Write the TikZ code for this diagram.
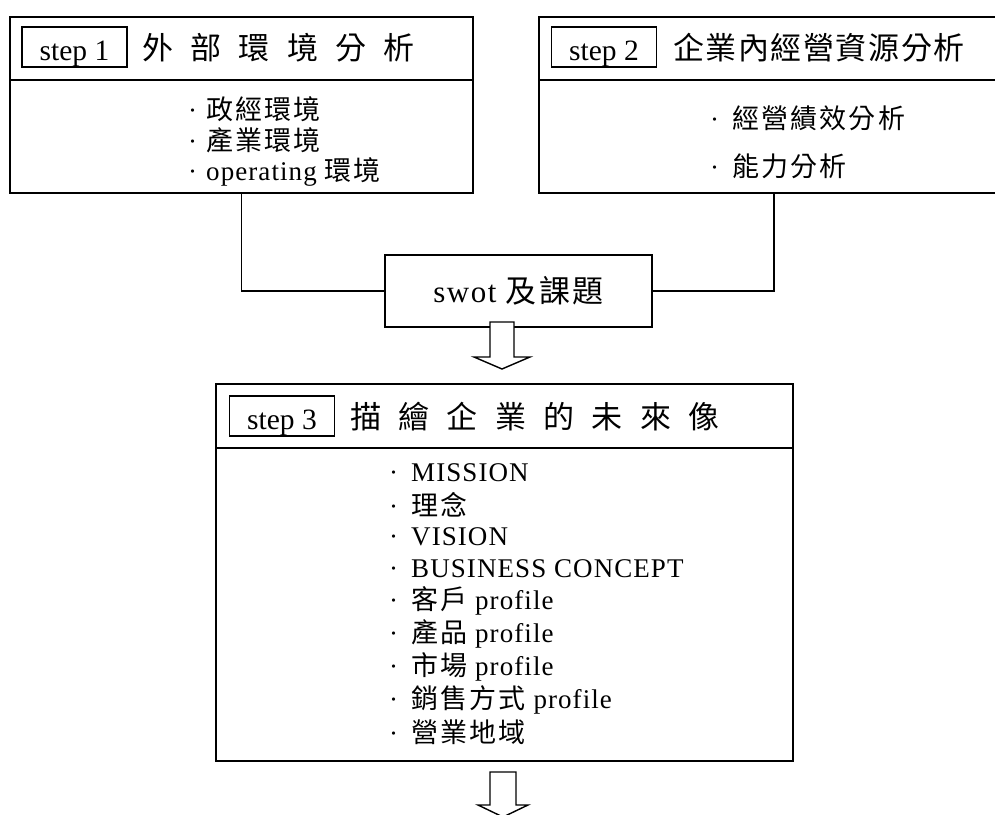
\documentclass[tikz,border=0pt]{standalone}
\usepackage{fontspec}
\setmainfont{Liberation Serif}
\newfontfamily\latinitem[LetterSpace=4]{Liberation Serif}
\newfontfamily\latinswot[LetterSpace=5]{Liberation Serif}
\newfontfamily\cjkfont{Noto Sans CJK TC}
\newfontfamily\cjktitleA[LetterSpace=56]{Noto Sans CJK TC}
\newfontfamily\cjktitleB[LetterSpace=5]{Noto Sans CJK TC}
\newfontfamily\cjktitleC[LetterSpace=56]{Noto Sans CJK TC}
\newfontfamily\cjkitem[LetterSpace=8]{Noto Sans CJK TC}
\begin{document}
\begin{tikzpicture}[x=1pt,y=-1pt,
  bigbox/.style={draw,line width=1.6pt,inner sep=0pt},
  stepbox/.style={draw,line width=1.6pt,minimum width=105pt,minimum height=40pt,inner sep=0pt},
  steplabel/.style={anchor=base,inner sep=0pt,font=\fontsize{29.5}{31}\selectfont},
  titletext/.style={anchor=west,inner sep=0pt,font=\fontsize{31}{33}\selectfont},
  itemtext/.style={anchor=west,inner sep=0pt,font=\fontsize{27}{29}\latinitem},
  conn/.style={line width=1.6pt},
  bigarrow/.style={draw,line width=1.4pt,fill=white,line join=miter}]
\clip (0,0) rectangle (995,814);
\fill[white] (0,0) rectangle (995,814);

% ---------- box 1 ----------
\node[bigbox,minimum width=463pt,minimum height=176pt] (box1) at (241.5,105) {};
\draw[conn] (box1.west |- 0,80) coordinate (d1l) -- (box1.east |- 0,80) coordinate (d1r);
\node[stepbox] (s1) at (74.5,47) {};
\node[steplabel] (l1) at ([yshift=7pt]s1.south) {step 1};
\node[titletext] (t1) at (142,48) {\cjktitleA 外部環境分析};
\node[itemtext] (i11) at (188,109) {·\hspace{9pt}{\cjkitem 政經環境}};
\node[itemtext] (i12) at (188,140) {·\hspace{9pt}{\cjkitem 產業環境}};
\node[itemtext] (i13) at (188,172) {·\hspace{9pt}operating {\cjkitem 環境}};

% ---------- box 2 ----------
\node[bigbox,minimum width=470pt,minimum height=176pt] (box2) at (774,105) {};
\draw[conn] (box2.west |- 0,80) coordinate (d2l) -- (box2.east |- 0,80) coordinate (d2r);
\node[stepbox] (s2) at (604,47) {};
\node[steplabel] (l2) at ([yshift=7pt]s2.south) {step 2};
\node[titletext] (t2) at (673,48) {\cjktitleB 企業內經營資源分析};
\node[itemtext] (i21) at (710,118) {·\hspace{13pt}{\cjkitem 經營績效分析}};
\node[itemtext] (i22) at (710,166) {·\hspace{13pt}{\cjkitem 能力分析}};

% ---------- swot ----------
\node[bigbox,minimum width=267pt,minimum height=72pt,font=\fontsize{31}{33}\latinswot] (swot) at (518.5,291) {swot {\cjkitem 及課題}};
\draw[conn] (box1.south) |- (swot.west);
\draw[conn] (box2.south) |- (swot.east);

% ---------- arrow 1 ----------
\coordinate (a1) at (502,322);
\draw[bigarrow] ([xshift=-12pt]a1) -- ++(0,35) -- ++(-16,0) -- (502,369) -- (530,357) -- ([xshift=12pt]a1 |- 0,357) -- ([xshift=12pt]a1) -- cycle;

% ---------- box 3 ----------
\node[bigbox,minimum width=577pt,minimum height=377pt] (box3) at (504.5,572.5) {};
\draw[conn] (box3.west |- 0,448) coordinate (d3l) -- (box3.east |- 0,448) coordinate (d3r);
\node[stepbox] (s3) at (282,416) {};
\node[steplabel] (l3) at ([yshift=7pt]s3.south) {step 3};
\node[titletext] (t3) at (350,417) {\cjktitleC 描繪企業的未來像};
\node[itemtext] (i31) at (389,473) {·\hspace{13pt}MISSION};
\node[itemtext] (i32) at (389,505) {·\hspace{13pt}{\cjkitem 理念}};
\node[itemtext] (i33) at (389,537) {·\hspace{13pt}VISION};
\node[itemtext] (i34) at (389,569) {·\hspace{13pt}BUSINESS CONCEPT};
\node[itemtext] (i35) at (389,601) {·\hspace{13pt}{\cjkitem 客戶} profile};
\node[itemtext] (i36) at (389,634) {·\hspace{13pt}{\cjkitem 產品} profile};
\node[itemtext] (i37) at (389,667) {·\hspace{13pt}{\cjkitem 市場} profile};
\node[itemtext] (i38) at (389,700) {·\hspace{13pt}{\cjkitem 銷售方式} profile};
\node[itemtext] (i39) at (389,732) {·\hspace{13pt}{\cjkitem 營業地域}};

% ---------- arrow 2 ----------
\coordinate (a2) at (503,772);
\draw[bigarrow] ([xshift=-13pt]a2) -- ++(0,33) -- ++(-12,0) -- (503,817) -- (528,805) -- ([xshift=13pt]a2 |- 0,805) -- ([xshift=13pt]a2) -- cycle;
\end{tikzpicture}
\end{document}
